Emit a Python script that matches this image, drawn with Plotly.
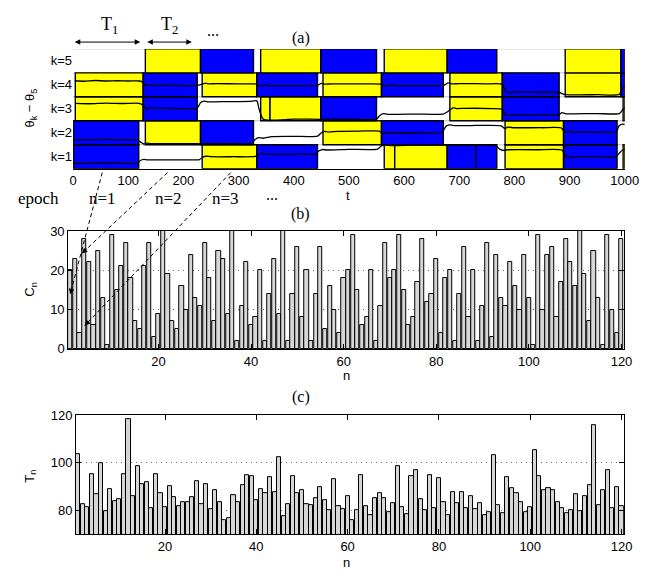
import plotly.graph_objects as go

W, H = 667, 579

# ---------------- data ----------------
# panel (a): blocks per row (t_start, t_end, colour code)
blocks_k5 = [(131, 231, 'Y'), (231, 327, 'B'), (340, 449, 'Y'), (449, 550, 'B'),
             (564, 678, 'Y'), (678, 768, 'B'), (892, 993, 'Y'), (993, 1000, 'B')]
blocks_k4 = [(4, 127, 'Y'), (127, 225, 'B'), (234, 333, 'Y'), (333, 443, 'B'),
             (453, 559, 'Y'), (559, 671, 'B'), (683, 778, 'Y'), (778, 881, 'B'),
             (892, 993, 'Y'), (993, 1000, 'B')]
blocks_k3 = [(4, 127, 'Y'), (127, 225, 'B'), (340, 357, 'Y'), (357, 449, 'Y'),
             (449, 550, 'B'), (683, 778, 'Y'), (778, 881, 'B'), (997, 1000, 'Y')]
blocks_k2 = [(1, 119, 'B'), (131, 231, 'Y'), (231, 327, 'B'), (453, 559, 'Y'),
             (559, 671, 'B'), (783, 889, 'Y'), (889, 986, 'B')]
blocks_k1 = [(1, 119, 'B'), (234, 333, 'Y'), (333, 443, 'B'), (564, 583, 'Y'),
             (583, 678, 'Y'), (678, 730, 'B'), (730, 768, 'B'), (783, 889, 'Y'),
             (889, 986, 'B'), (997, 1000, 'Y')]
rows = [1, 2, 3, 4, 5]
row_labels = ['k=1', 'k=2', 'k=3', 'k=4', 'k=5']
t_ticks = [0, 100, 200, 300, 400, 500, 600, 700, 800, 900, 1000]

# theta_k - theta_5 curves (t, value)
curve4_t = [3, 20, 40, 60, 80, 100, 120, 127, 133, 138, 145, 160, 200, 225, 234, 240, 246, 260, 300,
            333, 338, 345, 360, 400, 443, 450, 456, 470, 520, 559, 565, 571, 590, 640, 672, 680, 686,
            700, 750, 778, 785, 792, 800, 850, 881, 890, 900, 950, 990, 996, 1000]
curve4_y = [4.17, 4.15, 4.18, 4.16, 4.17, 4.16, 4.16, 4.10, 3.96, 3.99, 3.97, 3.98, 3.97, 3.97, 4.03,
            4.07, 4.04, 4.05, 4.04, 4.03, 3.95, 3.99, 3.97, 3.97, 3.98, 4.06, 4.03, 4.04, 4.04, 4.03,
            3.95, 3.99, 3.97, 3.97, 3.98, 4.08, 4.04, 4.05, 4.04, 4.02, 3.72, 3.66, 3.70, 3.69, 3.68,
            3.60, 3.58, 3.59, 3.60, 3.85, 3.90]
curve3_t = [5, 30, 60, 90, 120, 127, 133, 139, 146, 180, 225, 231, 237, 244, 280, 320, 333, 337, 345,
            400, 450, 500, 550, 556, 562, 570, 620, 672, 683, 689, 695, 710, 760, 778, 784, 790, 800,
            850, 881, 886, 892, 900, 950, 990, 996, 1000]
curve3_y = [3.23, 3.21, 3.24, 3.22, 3.23, 3.15, 3.00, 3.04, 3.02, 3.02, 3.03, 3.25, 3.32, 3.29, 3.30,
            3.31, 3.33, 3.00, 2.56, 2.57, 2.56, 2.57, 2.57, 2.72, 2.80, 2.77, 2.78, 2.79, 2.95, 3.05,
            3.01, 3.02, 3.01, 2.98, 2.72, 2.76, 2.74, 2.75, 2.76, 2.84, 2.80, 2.79, 2.80, 2.80, 2.95,
            3.05]
curve2_t = [1, 30, 60, 90, 115, 122, 128, 134, 140, 180, 230, 280, 322, 330, 336, 345, 360, 400, 443,
            449, 455, 462, 480, 520, 555, 561, 567, 580, 620, 668, 676, 682, 690, 720, 776, 782, 788,
            800, 850, 885, 891, 897, 910, 950, 984, 990, 996, 1000]
curve2_y = [1.71, 1.70, 1.72, 1.70, 1.71, 1.62, 1.53, 1.57, 1.55, 1.55, 1.55, 1.55, 1.56, 1.72, 1.80,
            1.77, 1.84, 1.85, 1.86, 1.98, 2.06, 2.03, 2.06, 2.07, 2.07, 1.97, 2.01, 1.99, 1.99, 2.00,
            2.27, 2.33, 2.30, 2.30, 2.29, 2.18, 2.23, 2.21, 2.21, 2.20, 2.02, 2.06, 2.03, 2.03, 2.04,
            2.30, 2.36, 2.35]
curve1_t = [1, 30, 60, 90, 116, 122, 128, 135, 160, 200, 229, 235, 241, 250, 290, 330, 336, 342, 350,
            400, 440, 446, 452, 460, 500, 552, 558, 564, 572, 620, 700, 766, 772, 778, 790, 840, 886,
            892, 898, 910, 950, 984, 990, 996, 1000]
curve1_y = [0.73, 0.72, 0.74, 0.72, 0.73, 0.84, 0.89, 0.87, 0.87, 0.87, 0.88, 0.98, 1.02, 1.00, 1.00,
            1.01, 1.09, 1.13, 1.11, 1.11, 1.12, 1.25, 1.30, 1.28, 1.31, 1.32, 1.44, 1.50, 1.47, 1.48,
            1.48, 1.47, 1.33, 1.27, 1.29, 1.29, 1.28, 1.05, 0.98, 1.00, 1.00, 1.00, 1.15, 1.28, 1.30]

# panel (b): C_n
C_n = [20, 23, 4, 28, 22, 6, 25, 13, 1, 29, 15, 21, 27, 18, 7, 5, 21, 27, 3, 9,
       31, 19, 7, 5, 16, 10, 24, 13, 11, 27, 18, 7, 25, 23, 9, 31, 2, 11, 22, 6,
       8, 20, 2, 14, 23, 9, 31, 2, 14, 26, 8, 20, 2, 14, 26, 5, 16, 10, 4, 18,
       20, 29, 15, 6, 8, 20, 2, 11, 27, 18, 20, 29, 15, 6, 8, 17, 28, 12, 14, 23,
       4, 18, 20, 2, 14, 26, 8, 20, 2, 11, 27, 3, 24, 13, 11, 22, 16, 10, 24, 13,
       1, 29, 10, 24, 26, 8, 17, 28, 22, 16, 31, 19, 7, 25, 13, 1, 29, 10, 4, 28]
# panel (c): T_n
T_n = [103.5, 82.5, 81.5, 95.1, 86.8, 99.9, 79.6, 88.8, 83.7, 84.7,
       95.1, 118.3, 85.8, 98.4, 91.0, 91.7, 81.0, 95.1, 87.3, 81.4,
       90.0, 85.7, 81.7, 83.3, 83.6, 85.7, 92.3, 82.5, 90.9, 80.4,
       88.5, 83.6, 75.7, 76.6, 86.3, 83.5, 90.6, 94.9, 94.4, 84.3,
       88.8, 87.1, 93.8, 87.5, 102.4, 77.6, 82.6, 94.5, 87.2, 88.5,
       82.6, 82.1, 85.1, 89.8, 84.3, 80.0, 93.0, 81.7, 80.6, 85.9,
       75.9, 80.0, 94.9, 81.8, 78.1, 85.0, 87.2, 85.0, 79.2, 82.8,
       98.4, 81.4, 78.5, 94.2, 96.8, 84.8, 80.2, 94.9, 80.8, 93.7,
       83.3, 78.1, 87.6, 83.0, 87.6, 80.8, 85.8, 80.4, 82.9, 78.1,
       79.2, 103.0, 82.1, 78.8, 94.0, 89.1, 87.3, 83.2, 79.2, 81.2,
       105.4, 94.2, 88.6, 89.4, 88.6, 83.4, 80.7, 78.6, 80.2, 86.6,
       79.5, 85.9, 90.6, 115.8, 82.1, 88.5, 96.8, 81.0, 89.8, 81.7]
n = list(range(1, len(C_n) + 1))
n_ticks = [20, 40, 60, 80, 100, 120]
C_ticks = [0, 10, 20, 30]
T_ticks = [80, 100, 120]

# ---------------- helpers ----------------
def px(x):
    return x / W

def py(y):
    return 1 - y / H

SANS = "Liberation Sans"
SERIF = "Liberation Serif"
colmap = {'Y': '#ffff00', 'B': '#0000ff'}

fig = go.Figure()

# ---------- panel (a) ----------
shapes = []
for b in [r + 0.5 for r in rows]:
    shapes.append(dict(type='line', xref='x', yref='y', x0=t_ticks[0], x1=t_ticks[-1], y0=b, y1=b,
                       line=dict(color='#c0c0c0', width=1), layer='below'))
for k, blocks in zip(rows, [blocks_k1, blocks_k2, blocks_k3, blocks_k4, blocks_k5]):
    for (t0, t1, c) in blocks:
        shapes.append(dict(type='rect', xref='x', yref='y', x0=t0, x1=t1, y0=k - 0.5, y1=k + 0.5,
                           fillcolor=colmap[c], line=dict(color='black', width=1.4), layer='below'))

for ct, cy in [(curve1_t, curve1_y), (curve2_t, curve2_y), (curve3_t, curve3_y), (curve4_t, curve4_y)]:
    fig.add_trace(go.Scatter(x=ct, y=cy, mode='lines',
                             line=dict(color='black', width=1.3, shape='spline', smoothing=0.6),
                             xaxis='x', yaxis='y', showlegend=False, hoverinfo='skip'))

# ---------- panel (b) ----------
fig.add_trace(go.Bar(x=n, y=C_n, width=0.9, marker=dict(color='#d6d6d6', line=dict(color='black', width=1)),
                     xaxis='x2', yaxis='y2', showlegend=False))
# ---------- panel (c) ----------
fig.add_trace(go.Bar(x=n, y=T_n, width=0.9, marker=dict(color='#d6d6d6', line=dict(color='black', width=1)),
                     xaxis='x3', yaxis='y3', showlegend=False))

# dashed arrows from epochs to bars
arrow_lines = [((101, 170), (68, 295)), ((168, 170), (80, 253)), ((233, 170), (83, 327))]
annotations = []
for (x0, y0), (x1, y1) in arrow_lines:
    shapes.append(dict(type='line', xref='paper', yref='paper', x0=px(x0), y0=py(y0), x1=px(x1), y1=py(y1),
                       line=dict(color='black', width=1, dash='4px,3px')))
    dx, dy = x0 - x1, y0 - y1
    L = (dx * dx + dy * dy) ** 0.5
    annotations.append(dict(x=px(x1), y=py(y1), xref='paper', yref='paper', text='', showarrow=True,
                            ax=dx / L * 9, ay=dy / L * 9, axref='pixel', ayref='pixel',
                            arrowhead=2, arrowsize=1.1, arrowwidth=1, arrowcolor='black'))

# T1/T2 double arrows
for (xa, xb) in [(73, 140), (147, 193)]:
    annotations.append(dict(x=px(xb), y=py(36), xref='paper', yref='paper', text='', showarrow=True,
                            ax=-(xb - xa), ay=0, axref='pixel', ayref='pixel', arrowside='end+start',
                            arrowhead=2, startarrowhead=2, arrowsize=1.1, startarrowsize=1.1,
                            arrowwidth=1, arrowcolor='black'))

def txt(x, y, s, family=SERIF, size=17, angle=0):
    annotations.append(dict(x=px(x), y=py(y), xref='paper', yref='paper', text=s, showarrow=False,
                            font=dict(family=family, size=size, color='black'), textangle=angle,
                            xanchor='center', yanchor='middle'))

txt(108, 19, 'T<sub>1</sub>', size=18)
txt(170, 19, 'T<sub>2</sub>', size=18)
txt(215, 24, '...', size=16)
txt(305, 32, '(a)', size=16)
txt(35, 197, 'epoch', size=17)
txt(101, 197, 'n=1', size=17)
txt(169, 197, 'n=2', size=17)
txt(228, 197, 'n=3', size=17)
txt(275, 192, '...', size=16)
txt(305, 212, '(b)', size=16)
txt(305, 400, '(c)', size=16)
# axis titles
txt(354, 194, 't', family=SANS, size=13)
txt(27, 104, 'θ<sub>k</sub> − θ<sub>5</sub>', family=SANS, size=13, angle=-90)
txt(352, 378, 'n', family=SANS, size=13)
txt(27, 290, 'C<sub>n</sub>', family=SANS, size=13, angle=-90)
txt(352, 570, 'n', family=SANS, size=13)
txt(27, 482, 'T<sub>n</sub>', family=SANS, size=13, angle=-90)

tickfont = dict(family=SANS, size=13, color='black')

box_x = dict(showline=True, linecolor='black', linewidth=1, mirror='ticks', ticks='inside', ticklen=5,
             tickcolor='black', showgrid=False, zeroline=False, tickfont=tickfont)
box_y = dict(showline=True, linecolor='black', linewidth=1, mirror='ticks', ticks='inside', ticklen=5,
             tickcolor='black', showgrid=True, gridcolor='#666666', griddash='1px,4px', gridwidth=1,
             zeroline=False, tickfont=tickfont)

fig.update_layout(
    width=W, height=H, autosize=False,
    margin=dict(l=0, r=0, t=0, b=0),
    paper_bgcolor='white', plot_bgcolor='rgba(0,0,0,0)',
    showlegend=False, bargap=0,
    xaxis=dict(domain=[px(71), px(638)], range=[t_ticks[0], t_ticks[-1]], tickvals=t_ticks,
               showline=True, linecolor='black', linewidth=1, ticks='', showgrid=False, zeroline=False,
               tickfont=tickfont, anchor='y'),
    yaxis=dict(domain=[py(166), py(43)], range=[rows[0] - 0.5, rows[-1] + 0.5], tickvals=rows,
               ticktext=row_labels, showline=False, ticks='', showgrid=False, zeroline=False,
               tickfont=tickfont, anchor='x'),
    xaxis2=dict(domain=[px(66), px(637)], range=[0.5, 120.5], tickvals=n_ticks, anchor='y2', **box_x),
    yaxis2=dict(domain=[py(351), py(230)], range=[0, 30], tickvals=C_ticks, anchor='x2', **box_y),
    xaxis3=dict(domain=[px(74), px(637)], range=[0.5, 120.5], tickvals=n_ticks, anchor='y3', **box_x),
    yaxis3=dict(domain=[py(541), py(419)], range=[70, 120], tickvals=T_ticks, anchor='x3', **box_y),
    shapes=shapes, annotations=annotations,
)

fig.write_html("out.html")
